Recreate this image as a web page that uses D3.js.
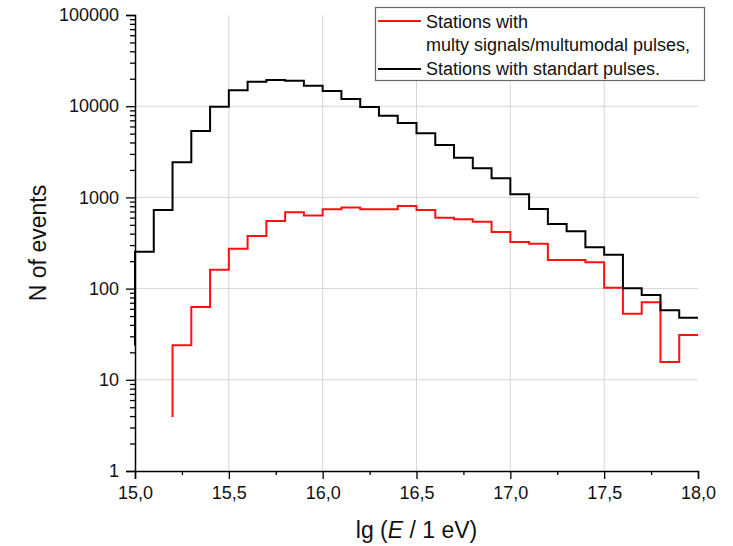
<!DOCTYPE html>
<html>
<head>
<meta charset="utf-8">
<script src="https://cdn.jsdelivr.net/npm/d3@7"></script>
<style>
  html, body { margin: 0; padding: 0; background: #fff; }
  svg { display: block; font-family: "Liberation Sans", Arial, sans-serif; }
</style>
</head>
<body>
<svg id="chart" width="733" height="546"></svg>
<script>
// ---- data ----
const binStarts = [15.0, 15.1, 15.2, 15.3, 15.4, 15.5, 15.6, 15.7, 15.8, 15.9,
                   16.0, 16.1, 16.2, 16.3, 16.4, 16.5, 16.6, 16.7, 16.8, 16.9,
                   17.0, 17.1, 17.2, 17.3, 17.4, 17.5, 17.6, 17.7, 17.8, 17.9];
const binEnd = 18.0;

// Stations with standart pulses (bins from 15.0)
const standardValues = [254, 727, 2427, 5345, 9880, 14930, 18570, 19370, 19040, 16800,
                        14690, 12000, 9790, 7870, 6550, 5045, 3757, 2725, 2085, 1620,
                        1082, 746, 511, 425, 284, 235, 101, 85, 58, 48];
const standardStart = 23.7;   // value the step line rises from at its first edge
const standardFirstBin = 0;

// Stations with multy signals / multumodal pulses (bins from 15.2)
const multiValues = [23.9, 63, 161, 274, 377, 551, 687, 633, 741, 775,
                     741, 741, 805, 727, 599, 575, 542, 417, 324, 311,
                     206, 206, 194, 102, 53, 71, 15.7, 31];
const multiStart = 3.9;
const multiFirstBin = 2;

const xTickValues = [15.0, 15.5, 16.0, 16.5, 17.0, 17.5, 18.0];
const xMinorTicks = [15.25, 15.75, 16.25, 16.75, 17.25, 17.75];
const xGridValues = [15.5, 16.0, 16.5, 17.0, 17.5];
const yTickValues = [1, 10, 100, 1000, 10000, 100000];
const yGridValues = [10, 100, 1000, 10000];
const legendLabels = ["Stations with", "multy signals/multumodal pulses,", "Stations with standart pulses."];
const colors = { multi: "#ff1010", standard: "#000000" };

// ---- layout ----
const svg = d3.select("#chart");
const pLeft = 135, pRight = 698, pTop = 15, pBottom = 471;

const x = d3.scaleLinear().domain([15, 18]).range([pLeft, pRight]);
const y = d3.scaleLog().domain([1, 100000]).range([pBottom, pTop]);

// grid
const grid = svg.append("g").attr("stroke", "#d6d6d6").attr("stroke-width", 1);
grid.selectAll("line.v").data(xGridValues).join("line").attr("class", "v")
  .attr("x1", d => x(d)).attr("x2", d => x(d))
  .attr("y1", pTop).attr("y2", pBottom);
grid.selectAll("line.h").data(yGridValues).join("line").attr("class", "h")
  .attr("x1", pLeft).attr("x2", pRight)
  .attr("y1", d => y(d)).attr("y2", d => y(d));

// step series
function stepPoints(values, firstBin, startVal) {
  const pts = [[binStarts[firstBin], startVal]];
  values.forEach((v, i) => pts.push([binStarts[firstBin + i], v]));
  pts.push([binEnd, values[values.length - 1]]);
  return pts;
}
const line = d3.line().x(d => x(d[0])).y(d => y(d[1])).curve(d3.curveStepAfter);

svg.append("path")
  .attr("d", line(stepPoints(multiValues, multiFirstBin, multiStart)))
  .attr("fill", "none").attr("stroke", colors.multi).attr("stroke-width", 2);
svg.append("path")
  .attr("d", line(stepPoints(standardValues, standardFirstBin, standardStart)))
  .attr("fill", "none").attr("stroke", colors.standard).attr("stroke-width", 2);

// axes
const fmtX = d => d3.format(".1f")(d).replace(".", ",");
svg.append("g").attr("transform", `translate(0,${pBottom})`)
  .call(d3.axisBottom(x).tickValues(xTickValues).tickSize(8).tickPadding(7).tickFormat(fmtX));
svg.append("g").attr("transform", `translate(0,${pBottom})`)
  .call(d3.axisBottom(x).tickValues(xMinorTicks).tickSize(4).tickFormat(""))
  .select(".domain").remove();

const yMinor = [];
for (let e = 0; e < 5; e++) for (let m = 2; m <= 9; m++) yMinor.push(m * Math.pow(10, e));
svg.append("g").attr("transform", `translate(${pLeft},0)`)
  .call(d3.axisLeft(y).tickValues(yTickValues).tickSize(9).tickPadding(7).tickFormat(d3.format("d")));
svg.append("g").attr("transform", `translate(${pLeft},0)`)
  .call(d3.axisLeft(y).tickValues(yMinor).tickSize(5).tickFormat(""))
  .select(".domain").remove();

svg.selectAll(".domain").attr("stroke", "#000").attr("stroke-width", 1.5);
svg.selectAll(".tick line").attr("stroke", "#000").attr("stroke-width", 1.3);
svg.selectAll(".tick text").attr("font-size", 18).attr("fill", "#111")
  .attr("font-family", "'Liberation Sans', Arial, sans-serif");

// axis titles
svg.append("text")
  .attr("transform", `translate(46,${(pTop + pBottom) / 2}) rotate(-90)`)
  .attr("text-anchor", "middle").attr("font-size", 23).attr("fill", "#111")
  .text("N of events");
const xt = svg.append("text")
  .attr("x", (pLeft + pRight) / 2).attr("y", 538)
  .attr("text-anchor", "middle").attr("font-size", 23).attr("fill", "#111");
xt.append("tspan").text("lg (");
xt.append("tspan").attr("font-style", "italic").text("E");
xt.append("tspan").text(" / 1 eV)");

// legend
const lg = svg.append("g");
lg.append("rect").attr("x", 375.5).attr("y", 7.5).attr("width", 329).attr("height", 73)
  .attr("fill", "#fff").attr("stroke", "#666").attr("stroke-width", 1.2);
lg.append("line").attr("x1", 378).attr("x2", 421).attr("y1", 21).attr("y2", 21)
  .attr("stroke", colors.multi).attr("stroke-width", 2);
lg.append("line").attr("x1", 378).attr("x2", 421).attr("y1", 69).attr("y2", 69)
  .attr("stroke", colors.standard).attr("stroke-width", 2);
const legendBaselines = [27.5, 51, 74.5];
lg.selectAll("text").data(legendLabels).join("text")
  .attr("x", 426).attr("y", (d, i) => legendBaselines[i])
  .attr("font-size", 18).attr("fill", "#111").text(d => d);
</script>
</body>
</html>
